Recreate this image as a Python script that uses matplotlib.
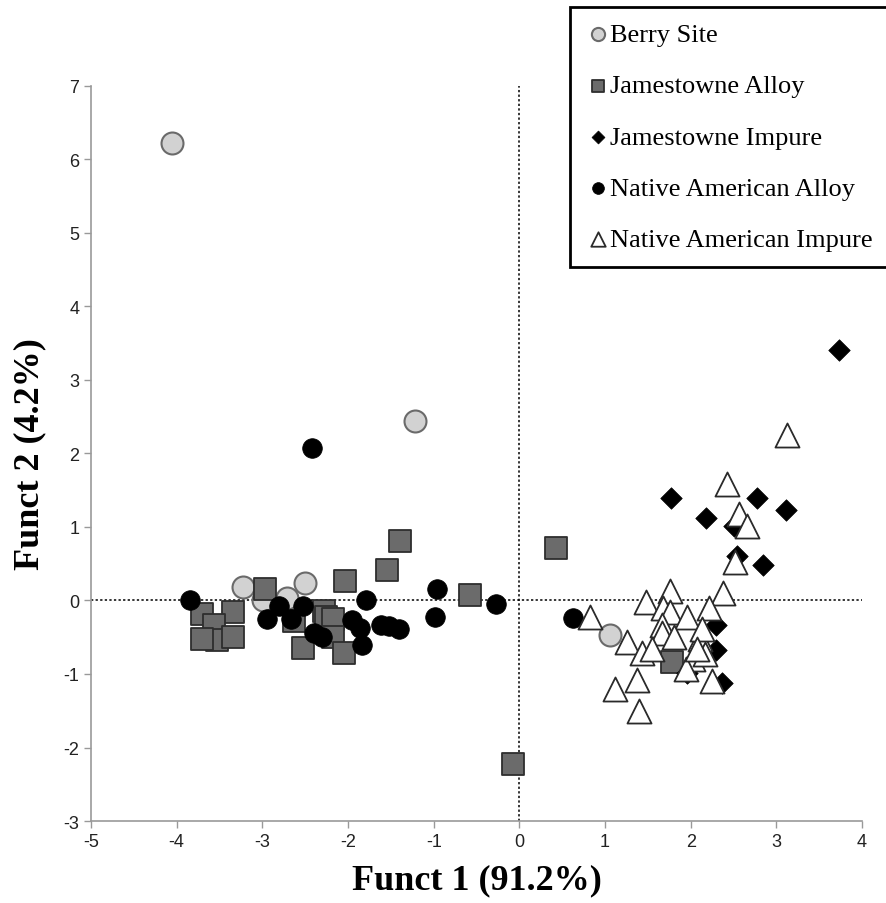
import matplotlib.pyplot as plt

plt.rcParams['axes.unicode_minus'] = False

# --- DATA ---
berry_x = [-4.05, -1.22, -3.22, -2.50, -2.99, -2.71, 1.06]
berry_y = [6.22, 2.44, 0.18, 0.24, 0.00, 0.04, -0.47]

jam_alloy_x = [-1.39, -1.54, -2.04, -2.97, -0.58, -3.71, -3.34, -3.57, -3.53, -3.70, -3.34,
               -2.63, -2.28, -2.26, -2.17, -2.17, -2.52, -2.05, 0.43, -0.08, 1.78]
jam_alloy_y = [0.81, 0.42, 0.27, 0.16, 0.07, -0.19, -0.15, -0.34, -0.54, -0.52, -0.50,
               -0.28, -0.14, -0.22, -0.25, -0.50, -0.64, -0.71, 0.72, -2.22, -0.83]

jam_impure_x = [3.73, 1.77, 2.18, 2.77, 3.11, 2.50, 2.54, 2.84, 2.30, 2.30, 2.37, 1.96]
jam_impure_y = [3.41, 1.40, 1.12, 1.39, 1.23, 1.02, 0.61, 0.48, -0.34, -0.68, -1.12, -0.98]

na_alloy_x = [-3.85, -2.94, -2.81, -2.66, -2.52, -2.40, -2.30, -1.79, -1.95, -1.86, -1.84,
              -1.62, -1.52, -1.41, -0.96, -0.98, -0.27, -2.42, 0.63]
na_alloy_y = [0.00, -0.25, -0.07, -0.25, -0.07, -0.44, -0.50, 0.00, -0.26, -0.37, -0.61,
              -0.34, -0.35, -0.39, 0.15, -0.23, -0.05, 2.08, -0.24]

na_impure_x = [3.12, 2.42, 2.56, 2.66, 2.52, 0.83, 1.48, 1.76, 2.38, 1.68, 1.76, 1.96,
               2.21, 1.67, 1.67, 1.80, 2.11, 2.13, 1.26, 1.43, 1.55, 2.03, 2.17, 1.94,
               2.25, 1.12, 1.37, 1.40, 2.07]
na_impure_y = [2.25, 1.58, 1.17, 1.02, 0.52, -0.22, -0.02, 0.13, 0.10, -0.10, -0.15, -0.23,
               -0.10, -0.34, -0.44, -0.50, -0.53, -0.39, -0.56, -0.71, -0.66, -0.80, -0.73,
               -0.93, -1.09, -1.21, -1.08, -1.50, -0.66]

x_ticks = list(range(-5, 5))
y_ticks = list(range(-3, 8))

fig = plt.figure(figsize=(8.86, 9.04), dpi=100)
ax = fig.add_axes([0.1027, 0.0907, 0.8703, 0.8131])

ax.axhline(0, color='black', linestyle=(0, (1.5, 1.5)), linewidth=1.1, zorder=1)
ax.axvline(0, color='black', linestyle=(0, (1.5, 1.5)), linewidth=1.1, zorder=1)

ax.scatter(berry_x, berry_y, s=250, marker='o', facecolor='#d2d2d2', edgecolor='#6a6a6a',
           linewidth=1.5, label='Berry Site', zorder=2)
ax.scatter(jam_alloy_x, jam_alloy_y, s=230, marker='s', facecolor='#6b6b6b', edgecolor='#2e2e2e',
           linewidth=1.3, label='Jamestowne Alloy', zorder=3)
ax.scatter(jam_impure_x, jam_impure_y, s=120, marker='D', facecolor='black', edgecolor='black',
           linewidth=0.5, label='Jamestowne Impure', zorder=4)
ax.scatter(na_alloy_x, na_alloy_y, s=200, marker='o', facecolor='black', edgecolor='black',
           linewidth=0.5, label='Native American Alloy', zorder=5)
ax.scatter(na_impure_x, na_impure_y, s=300, marker='^', facecolor='white', edgecolor='#2a2a2a',
           linewidth=1.3, label='Native American Impure', zorder=6)

ax.set_xlim(-5, 4)
ax.set_ylim(-3, 7)
ax.set_xticks(x_ticks)
ax.set_yticks(y_ticks)
ax.tick_params(direction='out', length=5, width=1, color='#999999', labelsize=13,
               labelcolor='#222222')
for lab in ax.get_xticklabels() + ax.get_yticklabels():
    lab.set_family('Liberation Sans')
for side in ['top', 'right']:
    ax.spines[side].set_visible(False)
for side in ['left', 'bottom']:
    ax.spines[side].set_color('#999999')
    ax.spines[side].set_linewidth(1.2)

ax.set_xlabel('Funct 1 (91.2%)', family='Liberation Serif', fontweight='bold', fontsize=26,
              labelpad=10)
ax.set_ylabel('Funct 2 (4.2%)', family='Liberation Serif', fontweight='bold', fontsize=26,
              labelpad=12)

leg = fig.legend(loc='upper left', bbox_to_anchor=(570 / 886, 1 - 8 / 904),
                 prop={'family': 'Liberation Serif', 'size': 19}, markerscale=0.6,
                 handletextpad=0.0, handlelength=0.9, labelspacing=1.05, borderpad=0.6,
                 borderaxespad=0, fancybox=False, framealpha=1, edgecolor='black')
leg.get_frame().set_linewidth(2)

fig.savefig('out.png', dpi=100)
